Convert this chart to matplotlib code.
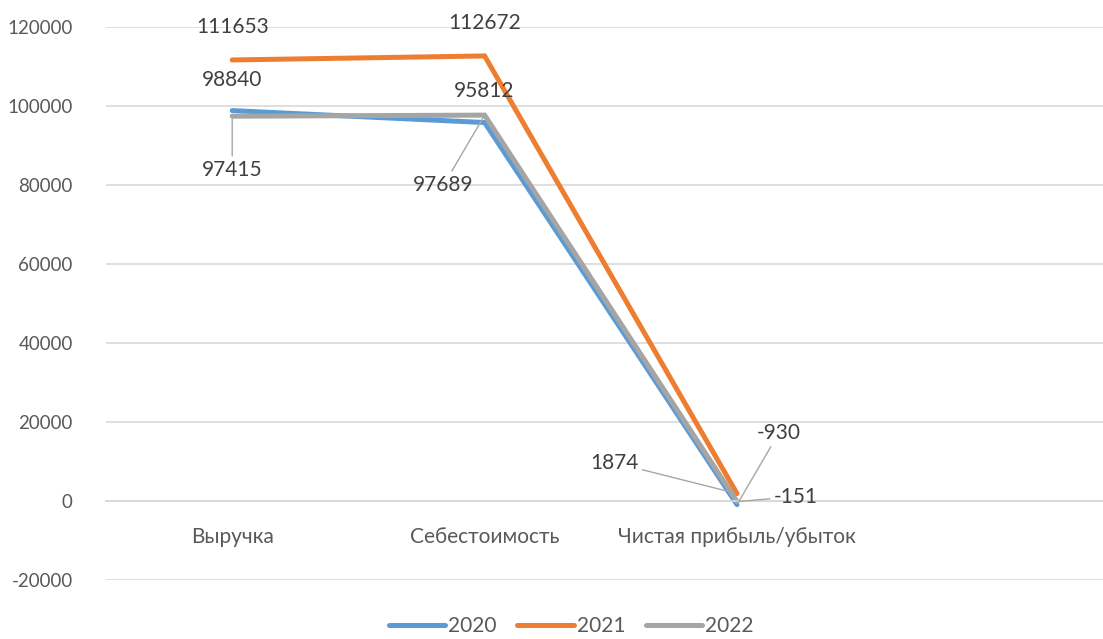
import matplotlib
matplotlib.use("Agg")
import matplotlib.pyplot as plt

categories = ["Выручка", "Себестоимость", "Чистая прибыль/убыток"]
years = ["2020", "2021", "2022"]
v2020 = [98840, 95812, -930]
v2021 = [111653, 112672, 1874]
v2022 = [97415, 97689, -151]
colors = ["#5B9BD5", "#ED7D31", "#A5A5A5"]

plt.rcParams['font.family'] = ['Lato', 'DejaVu Sans']
plt.rcParams['axes.unicode_minus'] = False

fig = plt.figure(figsize=(11.03, 6.39), dpi=100)
ax = fig.add_axes([106 / 1103, 1 - 580 / 639, 1 - 106 / 1103, (580 - 27) / 639])

x = list(range(len(categories)))
for vals, yr, c in zip([v2020, v2021, v2022], years, colors):
    ax.plot(x, vals, color=c, lw=3.6, solid_capstyle='round', solid_joinstyle='miter', label=yr)

ax.set_ylim(-20000, 120000)
ax.set_xlim(-0.5, 3.45)
ax.set_yticks(range(-20000, 120001, 20000))
ax.grid(axis='y', color='#D9D9D9', lw=1.2)
ax.set_axisbelow(True)
for s in ['top', 'right', 'left']:
    ax.spines[s].set_visible(False)
ax.spines['bottom'].set_position(('data', 0))
ax.spines['bottom'].set_color('#D9D9D9')
ax.spines['bottom'].set_linewidth(1.2)
ax.set_xticks(x)
ax.set_xticklabels(categories)
ax.tick_params(axis='x', length=0, pad=19, labelsize=15, labelcolor='#595959')
ax.tick_params(axis='y', length=0, pad=24, labelsize=13.5, labelcolor='#595959')

# data labels: (series, index, offset px, leader line)
lab_col = '#404040'
leader = dict(arrowstyle='-', color='#A6A6A6', lw=1.0, shrinkA=1, shrinkB=2)
labels = [
    (v2020, 0, (0, 31), False),
    (v2021, 0, (0, 33), False),
    (v2022, 0, (0, -54), True),
    (v2020, 1, (0, 32), False),
    (v2021, 1, (0, 33), False),
    (v2022, 1, (-41, -70), True),
    (v2020, 2, (42, 72), True),
    (v2021, 2, (-123, 31), True),
    (v2022, 2, (59, 5), True),
]
for vals, i, off, lead in labels:
    ax.annotate(str(vals[i]), xy=(i, vals[i]), xytext=off, textcoords='offset pixels',
                ha='center', va='center', fontsize=15, color=lab_col,
                arrowprops=leader if lead else None)

fig.legend(loc='center', bbox_to_anchor=(0.518, 0.02), ncol=3, frameon=False,
           fontsize=15, labelcolor='#595959', handlelength=2.7, handletextpad=0.15,
           columnspacing=1.0)

fig.savefig("out.png", dpi=100)
